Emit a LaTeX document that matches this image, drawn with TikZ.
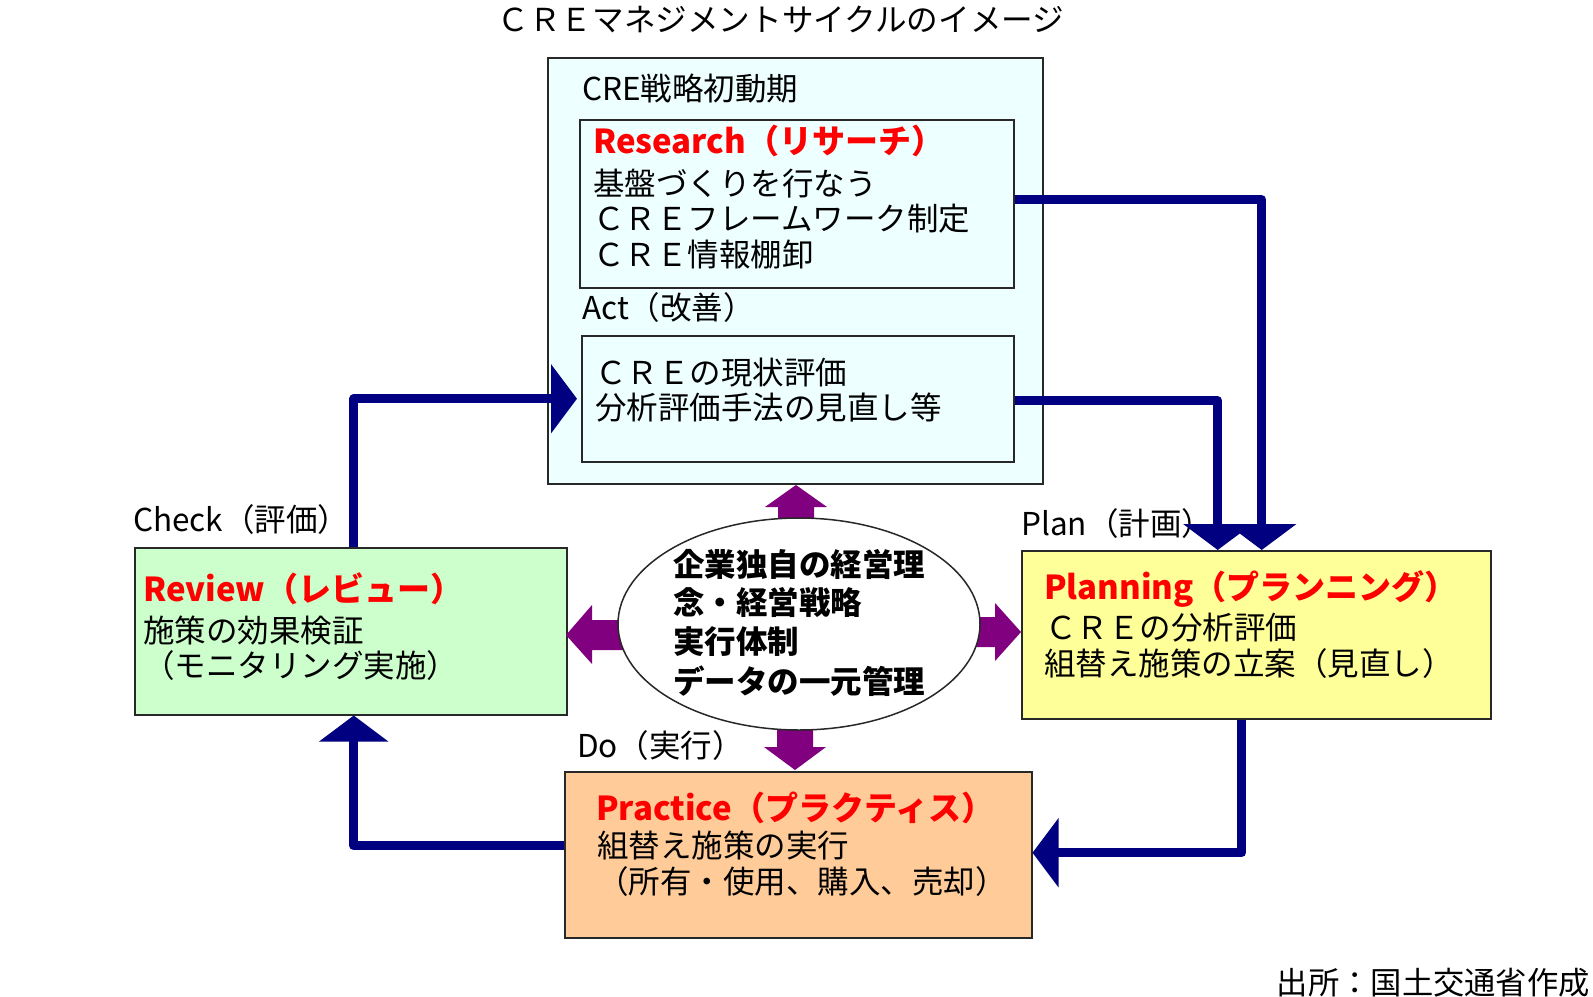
\documentclass[tikz,border=0pt]{standalone}
\usepackage{fontspec}
\setmainfont{Noto Sans CJK JP}
\usetikzlibrary{arrows.meta,shapes.geometric}
\definecolor{outerc}{RGB}{238,255,255}
\definecolor{reviewc}{RGB}{204,255,204}
\definecolor{planc}{RGB}{255,255,153}
\definecolor{pracc}{RGB}{255,204,153}
\definecolor{navyc}{RGB}{0,0,128}
\definecolor{purpc}{RGB}{128,0,128}
\definecolor{redc}{RGB}{255,0,0}
\definecolor{linec}{RGB}{40,40,40}
\begin{document}
\begin{tikzpicture}[x=1pt,y=-1pt,
  box/.style={draw=linec, line width=1.5pt, inner sep=0pt, anchor=north west},
  txt/.style={anchor=west, inner sep=0pt, text height=27pt, text depth=3pt},
  body/.style={txt, font=\fontsize{31.5pt}{36pt}\selectfont},
  lab/.style={txt, font=\fontsize{31.5pt}{36pt}\selectfont},
  ttl/.style={txt, text=redc, font=\bfseries\fontsize{33pt}{36pt}\selectfont},
  elltxt/.style={txt, font=\bfseries\fontsize{31.5pt}{36pt}\selectfont},
  nav/.style={draw=navyc, line width=9pt, line join=round,
    -{Triangle[length=26pt,width=68pt]}},
  purp/.style={fill=purpc}
]
\useasboundingbox (0,0) rectangle (1593,996);

% title
\node[anchor=center, inner sep=0pt, font=\fontsize{31.6pt}{36pt}\selectfont] (title) at (781,19) {ＣＲＥマネジメントサイクルのイメージ};

% boxes
\node[box, fill=outerc, minimum width=495pt, minimum height=426pt] (outer) at (547,57) {};
\node[box, fill=outerc, minimum width=434pt, minimum height=168pt] (research) at (579,119) {};
\node[box, fill=outerc, minimum width=432pt, minimum height=126pt] (act) at (581,335) {};
\node[box, fill=reviewc, minimum width=432pt, minimum height=167pt] (review) at (134,547) {};
\node[box, fill=planc, minimum width=469pt, minimum height=168pt] (planning) at (1021,550) {};
\node[box, fill=pracc, minimum width=467pt, minimum height=166pt] (practice) at (564,771) {};

% outer box texts
\node[lab] (l-init) at (582,88) {CRE戦略初動期};
\node[ttl] (t-res) at (593,141) {Research（リサーチ）};
\node[body] (r1) at (593,183) {基盤づくりを行なう};
\node[body] (r2) at (593,218) {ＣＲＥフレームワーク制定};
\node[body] (r3) at (593,254) {ＣＲＥ情報棚卸};
\node[lab] (l-act) at (582,307) {Act（改善）};
\node[body] (a1) at (595,372) {ＣＲＥの現状評価};
\node[body] (a2) at (595,407) {分析評価手法の見直し等};

% review
\node[lab] (l-check) at (133,519) {Check（評価）};
\node[ttl] (t-rev) at (143,589) {Review（レビュー）};
\node[body] (v1) at (143,630) {施策の効果検証};
\node[body] (v2) at (143,665) {（モニタリング実施）};

% planning
\node[lab] (l-plan) at (1021,523) {Plan（計画）};
\node[ttl] (t-plan) at (1044,587) {Planning（プランニング）};
\node[body] (p1) at (1045,627) {ＣＲＥの分析評価};
\node[body] (p2) at (1044,663) {組替え施策の立案（見直し）};

% practice
\node[lab] (l-do) at (577,745) {Do（実行）};
\node[ttl] (t-prac) at (596,808) {Practice（プラクティス）};
\node[body] (c1) at (597,845) {組替え施策の実行};
\node[body] (c2) at (597,881) {（所有・使用、購入、売却）};

% purple block arrows
\fill[purp] (778,528)--(778,507)--(765,507)--(796,485)--(827,507)--(814,507)--(814,528)--cycle;
\fill[purp] (777,720)--(777,747)--(764,747)--(795,770)--(826,747)--(813,747)--(813,720)--cycle;
\fill[purp] (632,620)--(592,620)--(592,605)--(566,635)--(592,664)--(592,650)--(632,650)--cycle;
\fill[purp] (968,617)--(995,617)--(995,603)--(1021,632)--(995,661)--(995,647)--(968,647)--cycle;

% core ellipse
\node[draw=linec, line width=1.5pt, ellipse, fill=white, minimum width=362pt, minimum height=212pt, inner sep=0pt] (core) at (799,624) {};
\node[elltxt] (e1) at (673,564) {企業独自の経営理};
\node[elltxt] (e2) at (673,602) {念・経営戦略};
\node[elltxt] (e3) at (673,641) {実行体制};
\node[elltxt] (e4) at (673,681) {データの一元管理};

% navy cycle arrows
\draw[nav] ([yshift=4pt]research.east) -| ([xshift=5.5pt]planning.north);
\draw[nav] ([yshift=-2pt]act.east) -| ([xshift=-38.5pt]planning.north);
\draw[nav] ([xshift=-14.5pt]planning.south) |- ([yshift=2pt]practice.east);
\draw[nav] ([yshift=9pt]practice.west) -| ([xshift=3pt]review.south);
\draw[nav] ([xshift=3pt]review.north) |- ([xshift=-4pt]act.west);

% source
\node[anchor=east, inner sep=0pt, text height=27pt, text depth=3pt, font=\fontsize{31.3pt}{36pt}\selectfont] (src) at (1590,982) {出所：国土交通省作成};
\end{tikzpicture}
\end{document}
